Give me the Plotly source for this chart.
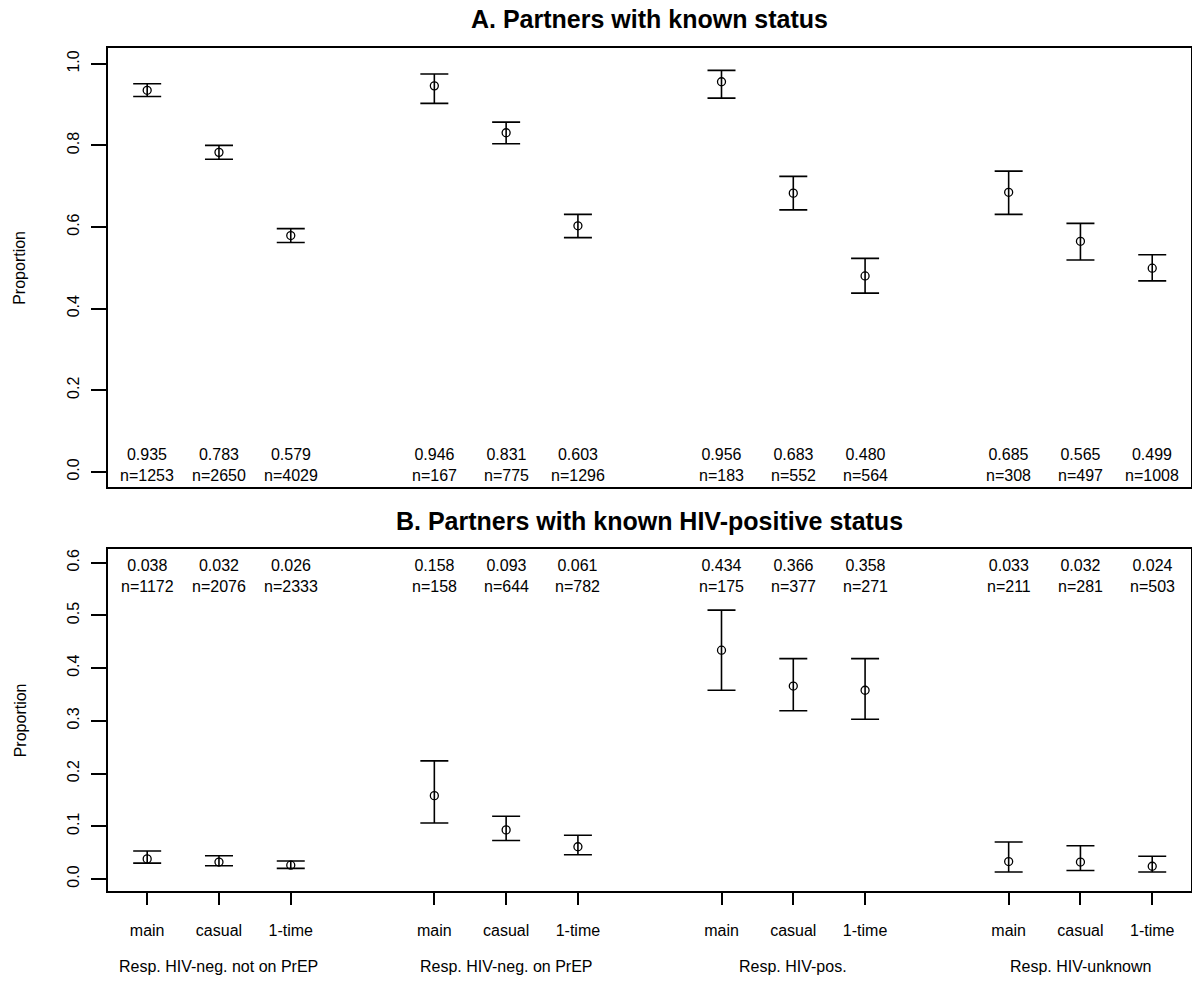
import plotly.graph_objects as go

# ---- data ----
groups = ["Resp. HIV-neg. not on PrEP", "Resp. HIV-neg. on PrEP", "Resp. HIV-pos.", "Resp. HIV-unknown"]
types = ["main", "casual", "1-time"]

A_prop = [0.935, 0.783, 0.579, 0.946, 0.831, 0.603, 0.956, 0.683, 0.480, 0.685, 0.565, 0.499]
A_lo   = [0.920, 0.766, 0.562, 0.903, 0.804, 0.574, 0.916, 0.642, 0.438, 0.631, 0.519, 0.468]
A_hi   = [0.951, 0.800, 0.596, 0.975, 0.857, 0.631, 0.984, 0.724, 0.523, 0.737, 0.609, 0.532]
A_n    = [1253, 2650, 4029, 167, 775, 1296, 183, 552, 564, 308, 497, 1008]

B_prop = [0.038, 0.032, 0.026, 0.158, 0.093, 0.061, 0.434, 0.366, 0.358, 0.033, 0.032, 0.024]
B_lo   = [0.030, 0.025, 0.020, 0.106, 0.073, 0.046, 0.358, 0.319, 0.303, 0.013, 0.016, 0.013]
B_hi   = [0.053, 0.044, 0.034, 0.224, 0.119, 0.083, 0.510, 0.418, 0.418, 0.070, 0.063, 0.043]
B_n    = [1172, 2076, 2333, 158, 644, 782, 175, 377, 271, 211, 281, 503]

A_ticks = [0.0, 0.2, 0.4, 0.6, 0.8, 1.0]
B_ticks = [0.0, 0.1, 0.2, 0.3, 0.4, 0.5, 0.6]

# ---- layout helpers ----
W, H = 1192, 981
FONT = "Liberation Sans, Arial, sans-serif"
xs = [g * 4 + t + 1 for g in range(len(groups)) for t in range(len(types))]
tick_text = [t for g in groups for t in types]

x_dom = [107.7 / W, 1191.0 / W]
A_dom = [(H - 487.3) / H, (H - 48.3) / H]
B_dom = [(H - 891.3) / H, (H - 549.3) / H]

fig = go.Figure()


def add_panel(prop, lo, hi, xa, ya):
    fig.add_trace(go.Scatter(
        x=xs, y=prop, mode="markers", xaxis=xa, yaxis=ya,
        marker=dict(symbol="circle-open", size=8, color="black", line=dict(width=1.3, color="black")),
        error_y=dict(type="data", symmetric=False,
                     array=[h - p for h, p in zip(hi, prop)],
                     arrayminus=[p - l for p, l in zip(prop, lo)],
                     color="black", thickness=1.6, width=14),
        showlegend=False, hoverinfo="skip"))


add_panel(A_prop, A_lo, A_hi, "x", "y")
add_panel(B_prop, B_lo, B_hi, "x2", "y2")

annotations = []
for x, p, n in zip(xs, A_prop, A_n):
    annotations.append(dict(x=x, xref="x", y=(487.3 - 464.5) / 439.0, yref="y domain",
                            text=f"{p:.3f}<br>n={n}", showarrow=False,
                            font=dict(size=16, family=FONT, color="black"),
                            xanchor="center", yanchor="middle"))
for x, p, n in zip(xs, B_prop, B_n):
    annotations.append(dict(x=x, xref="x2", y=(891.3 - 575.5) / 342.0, yref="y2 domain",
                            text=f"{p:.3f}<br>n={n}", showarrow=False,
                            font=dict(size=16, family=FONT, color="black"),
                            xanchor="center", yanchor="middle"))
# group labels
for g, name in enumerate(groups):
    annotations.append(dict(x=g * 4 + 2, xref="x2", y=(H - 966.7) / H, yref="paper",
                            text=name, showarrow=False,
                            font=dict(size=16, family=FONT, color="black"),
                            xanchor="center", yanchor="middle"))
# titles
annotations.append(dict(x=0.5, xref="x domain", y=(H - 19) / H, yref="paper",
                        text="<b>A. Partners with known status</b>", showarrow=False,
                        font=dict(size=25, family=FONT, color="black"),
                        xanchor="center", yanchor="middle"))
annotations.append(dict(x=0.5, xref="x2 domain", y=(H - 521) / H, yref="paper",
                        text="<b>B. Partners with known HIV-positive status</b>", showarrow=False,
                        font=dict(size=25, family=FONT, color="black"),
                        xanchor="center", yanchor="middle"))
# y-axis titles
annotations.append(dict(x=20 / W, xref="paper", y=0.5, yref="y domain",
                        text="Proportion", textangle=-90, showarrow=False,
                        font=dict(size=16, family=FONT, color="black"),
                        xanchor="center", yanchor="middle"))
annotations.append(dict(x=20 / W, xref="paper", y=0.5, yref="y2 domain",
                        text="Proportion", textangle=-90, showarrow=False,
                        font=dict(size=16, family=FONT, color="black"),
                        xanchor="center", yanchor="middle"))

axis_common = dict(showgrid=False, zeroline=False, showline=True, linecolor="black",
                   linewidth=1.5, mirror=True,
                   tickfont=dict(size=16, family=FONT, color="black"))

fig.update_layout(
    width=W, height=H,
    margin=dict(l=0, r=0, t=0, b=0),
    paper_bgcolor="white", plot_bgcolor="white",
    font=dict(family=FONT, color="black"),
    xaxis=dict(domain=x_dom, anchor="y", range=[0.45, 15.54], showticklabels=False,
               ticks="", **axis_common),
    yaxis=dict(domain=A_dom, anchor="x", range=[-0.038, 1.038], tickvals=A_ticks,
               ticktext=[f"{v:.1f}" for v in A_ticks], ticks="outside", ticklen=15,
               tickwidth=1.5, tickcolor="black", tickangle=-90, ticklabelstandoff=6,
               **axis_common),
    xaxis2=dict(domain=x_dom, anchor="y2", range=[0.45, 15.54], tickvals=xs,
                ticktext=tick_text, ticks="outside", ticklen=12, tickwidth=1.5,
                tickcolor="black", ticklabelstandoff=12, **axis_common),
    yaxis2=dict(domain=B_dom, anchor="x2", range=[-0.0235, 0.6255], tickvals=B_ticks,
                ticktext=[f"{v:.1f}" for v in B_ticks], ticks="outside", ticklen=15,
                tickwidth=1.5, tickcolor="black", tickangle=-90, ticklabelstandoff=6,
                **axis_common),
    annotations=annotations,
)

fig.write_html("out.html", config={"displayModeBar": False},
               post_script="document.body.style.margin='0';document.body.style.overflow='hidden';")
